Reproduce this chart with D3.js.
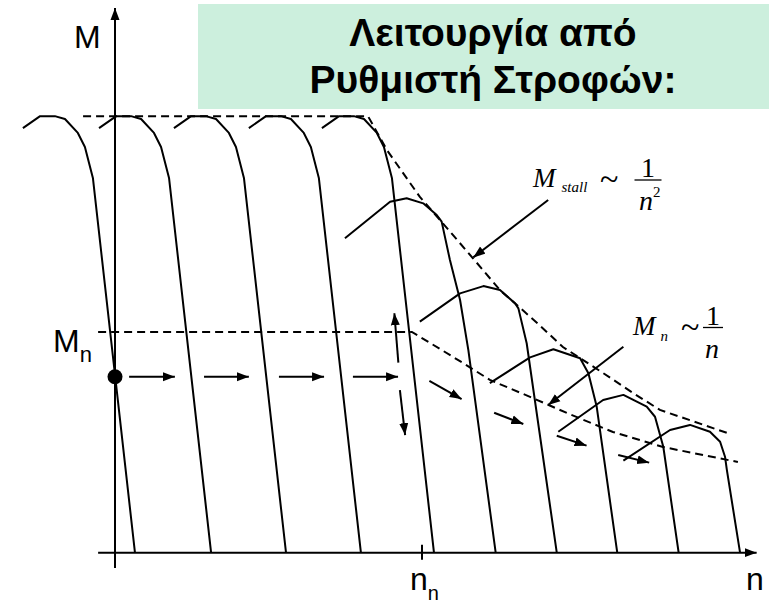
<!DOCTYPE html>
<html>
<head>
<meta charset="utf-8">
<script src="https://cdn.jsdelivr.net/npm/d3@7"></script>
<style>
  html, body { margin: 0; padding: 0; background: #ffffff; }
  svg { display: block; }
</style>
</head>
<body>
<svg id="chart" width="769" height="603"></svg>
<script>
// ---------------- DATA (n in % of rated speed, M in % of rated torque) ----------------
const titleLines = ["Λειτουργία από", "Ρυθμιστή Στροφών:"];

// constant-torque region: one curve shape [dn from no-load speed, M], shifted to each no-load speed
const ctShape = [[-36.5, 192.4], [-30.9, 197.8], [-26.1, 197.8], [-22.8, 196.5],
                 [-18.6, 190.2], [-16.3, 183.8], [-13.7, 169.8], [0, 0]];
const ctNoLoad = [6.5, 31.3, 55.7, 80.1, 103.9];

// field-weakening region curves [n, M]
const fwCurve1 = [[74.9, 142.5], [89.6, 159.0], [95.0, 160.6], [100.4, 158.3], [104.8, 153.0],
                  [106.4, 150.0], [109.1, 132.6], [112.4, 114.5], [115.1, 91.8], [124.0, 0]];
const fwCurve2 = [[99.3, 104.7], [112.4, 117.5], [120.0, 120.8], [125.4, 119.0], [130.3, 113.0],
                  [131.4, 110.7], [134.1, 94.9], [143.9, 0]];
const fwCurve3 = [[122.1, 76.8], [135.2, 88.5], [142.8, 92.2], [151.5, 88.1], [154.2, 81.3],
                  [156.9, 66.2], [163.6, 0]];
const fwCurve4 = [[144.4, 54.8], [159.0, 69.2], [165.6, 71.5], [173.2, 66.2], [175.9, 61.6],
                  [178.6, 48.0], [183.6, 0]];
const fwCurve5 = [[165.6, 41.7], [180.8, 55.6], [187.3, 57.9], [193.8, 54.8], [197.1, 50.3],
                  [198.7, 43.5], [199.3, 37.5], [203.6, 0]];

// limit envelopes (dashed)
const stallLimit = [[-10.4, 197.8], [82.4, 197.8], [88.6, 182.4], [99.3, 161.2], [105.9, 150.7],
                    [116.6, 133.4], [125.4, 119.0], [137.5, 104.1], [145.9, 93.2], [159.0, 81.4],
                    [168.7, 72.4], [177.5, 64.7], [199.3, 54.3]];
const ratedLimit = [[-5.5, 100], [96.7, 100], [105.9, 92.3], [113.4, 85.9], [122.1, 78.3],
                    [135.2, 70.6], [147.2, 63.3], [162.2, 54.7], [178.5, 47.9], [202.9, 41.1]];

// operating point and movement arrows [n1, M1, n2, M2]
const opPoint = [0, 79.7];
const hArrows = [[4.6, 79.7, 19.5, 79.7], [29.0, 79.7, 43.6, 79.7],
                 [53.4, 79.7, 68.1, 79.7], [77.5, 79.7, 92.2, 79.7]];
const vArrows = [[92.3, 86.1, 91.0, 108.5], [92.8, 73.7, 94.5, 53.3]];
const dArrows = [[102.4, 77.9, 112.9, 69.6], [123.5, 63.4, 133.0, 58.3],
                 [143.9, 53.0, 153.6, 48.5], [163.9, 44.3, 174.0, 40.8]];
const pointers = [[141.1, 159.8, 116.7, 133.8], [165.6, 93.3, 141.1, 66.9]];

const nAxisExtent = [-5.5, 209];
const mAxisExtent = [-6.9, 246.8];
const nTicks = [100];

// ---------------- SCALES ----------------
const svg = d3.select("#chart");
const x = d3.scaleLinear().domain([0, 100]).range([115, 422]);
const y = d3.scaleLinear().domain([0, 100]).range([552.7, 332]);

const defs = svg.append("defs");
defs.append("marker")
  .attr("id", "ah").attr("markerUnits", "userSpaceOnUse")
  .attr("viewBox", "0 0 12 10").attr("refX", 12).attr("refY", 5)
  .attr("markerWidth", 12).attr("markerHeight", 10).attr("orient", "auto")
  .append("path").attr("d", "M0,0.5 L12,5 L0,9.5 Z").attr("fill", "#000");

// ---------------- TITLE BOX ----------------
svg.append("rect").attr("x", 198).attr("y", 4).attr("width", 571).attr("height", 105)
  .attr("fill", "#CCEFDD");
svg.selectAll("text.title").data(titleLines).enter().append("text")
  .attr("class", "title")
  .attr("x", 493).attr("y", (d, i) => 46 + i * 47)
  .attr("text-anchor", "middle")
  .attr("font-family", "Liberation Sans, Arial, sans-serif")
  .attr("font-weight", "bold").attr("font-size", 39)
  .attr("fill", "#000").text(d => d);

const line = d3.line().x(d => x(d[0])).y(d => y(d[1])).curve(d3.curveLinear);

// ---------------- AXES ----------------
svg.append("line")
  .attr("x1", x(nAxisExtent[0])).attr("x2", x(nAxisExtent[1]))
  .attr("y1", y(0)).attr("y2", y(0))
  .attr("stroke", "#000").attr("stroke-width", 2).attr("marker-end", "url(#ah)");
svg.append("line")
  .attr("x1", x(0)).attr("x2", x(0))
  .attr("y1", y(mAxisExtent[0])).attr("y2", y(mAxisExtent[1]))
  .attr("stroke", "#000").attr("stroke-width", 2).attr("marker-end", "url(#ah)");
svg.selectAll("line.tick").data(nTicks).enter().append("line")
  .attr("class", "tick")
  .attr("x1", d => x(d)).attr("x2", d => x(d))
  .attr("y1", y(0) - 8).attr("y2", y(0) + 7)
  .attr("stroke", "#000").attr("stroke-width", 2);

// ---------------- DASHED LIMITS ----------------
[stallLimit, ratedLimit].forEach(pts => {
  svg.append("path").attr("d", line(pts))
    .attr("fill", "none").attr("stroke", "#000").attr("stroke-width", 2)
    .attr("stroke-dasharray", "8,5");
});

// ---------------- CURVES ----------------
ctNoLoad.forEach(n0 => {
  svg.append("path").attr("d", line(ctShape.map(p => [n0 + p[0], p[1]])))
    .attr("fill", "none").attr("stroke", "#000").attr("stroke-width", 2)
    .attr("stroke-linejoin", "round");
});
[fwCurve1, fwCurve2, fwCurve3, fwCurve4, fwCurve5].forEach(pts => {
  svg.append("path").attr("d", line(pts))
    .attr("fill", "none").attr("stroke", "#000").attr("stroke-width", 2)
    .attr("stroke-linejoin", "round");
});

// ---------------- ARROWS ----------------
[...hArrows, ...vArrows, ...dArrows, ...pointers].forEach(a => {
  svg.append("line")
    .attr("x1", x(a[0])).attr("y1", y(a[1]))
    .attr("x2", x(a[2])).attr("y2", y(a[3]))
    .attr("stroke", "#000").attr("stroke-width", 2).attr("marker-end", "url(#ah)");
});

svg.append("circle").attr("cx", x(opPoint[0])).attr("cy", y(opPoint[1])).attr("r", 7.5)
  .attr("fill", "#000");

// ---------------- LABELS ----------------
const sans = "Liberation Sans, Arial, sans-serif";
const serif = "Liberation Serif, Times New Roman, serif";
svg.append("text").attr("x", 74).attr("y", 48).attr("font-family", sans).attr("font-size", 32)
  .text("M");
const mn = svg.append("text").attr("x", 53).attr("y", 352).attr("font-family", sans).attr("font-size", 32);
mn.append("tspan").text("M");
mn.append("tspan").attr("font-size", 22).attr("dy", 10).text("n");
const nn = svg.append("text").attr("x", 410).attr("y", 590).attr("font-family", sans).attr("font-size", 32);
nn.append("tspan").text("n");
nn.append("tspan").attr("font-size", 20).attr("dy", 10).text("n");
svg.append("text").attr("x", 746).attr("y", 590).attr("font-family", sans).attr("font-size", 32)
  .text("n");

// formula: M_sub ~ 1/n^sup
function formula(g, o) {
  const t = g.append("text").attr("x", o.x).attr("y", o.base).attr("font-family", serif).attr("font-size", 27);
  t.append("tspan").attr("font-style", "italic").text("M");
  t.append("tspan").attr("font-style", "italic").attr("font-size", 15).attr("dx", o.subDx).attr("dy", o.subDy).text(o.sub);
  g.append("text").attr("x", o.tildeX).attr("y", o.base + 3).attr("font-family", serif).attr("font-size", 34).text("~");
  g.append("text").attr("x", o.fracX).attr("y", o.bar - 3).attr("text-anchor", "middle")
    .attr("font-family", serif).attr("font-size", 28).text("1");
  g.append("line").attr("x1", o.fracX - o.barW / 2).attr("x2", o.fracX + o.barW / 2)
    .attr("y1", o.bar).attr("y2", o.bar).attr("stroke", "#000").attr("stroke-width", 1.3);
  const d = g.append("text").attr("x", o.denX).attr("y", o.bar + 30).attr("font-family", serif).attr("font-size", 28);
  d.append("tspan").attr("font-style", "italic").text("n");
  if (o.sup) d.append("tspan").attr("font-size", 15).attr("dy", -13).text(o.sup);
}
formula(svg, { x: 533, base: 187, sub: "stall", subDx: 6, subDy: 5, tildeX: 600, fracX: 648, bar: 180, barW: 27, denX: 639, sup: "2" });
formula(svg, { x: 633, base: 335, sub: "n", subDx: 5, subDy: 6, tildeX: 681, fracX: 713, bar: 327.5, barW: 20, denX: 705, sup: null });
</script>
</body>
</html>
